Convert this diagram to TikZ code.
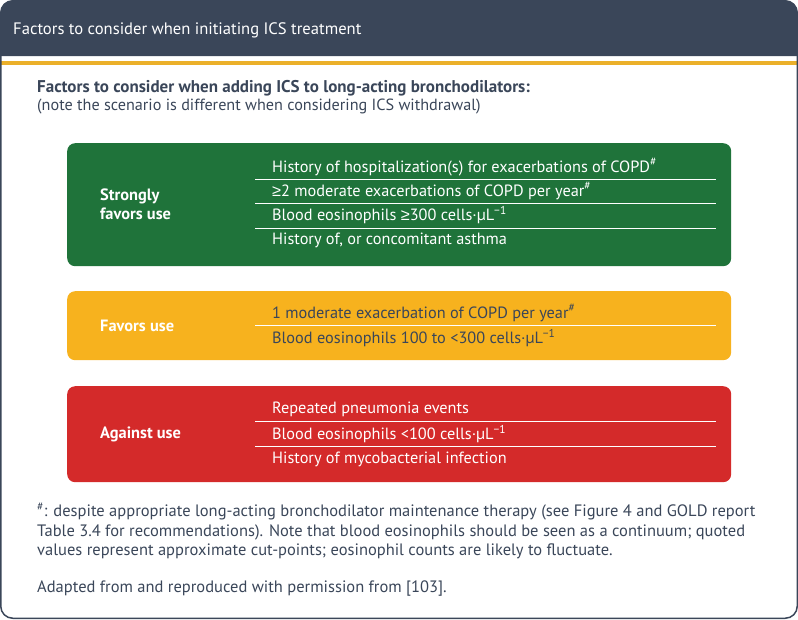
\documentclass[tikz,border=0pt]{standalone}
\usepackage{fontspec}
\setmainfont{PT Sans}
\newfontfamily\symfont{Liberation Sans}
\usepackage{xcolor}
\usepackage{tikz}
\usetikzlibrary{positioning,calc}
\definecolor{gdSlate}{HTML}{3A4659}
\definecolor{gdGold}{HTML}{EBB02A}
\definecolor{gdGreen}{HTML}{1F733A}
\definecolor{gdAmber}{HTML}{F7B21E}
\definecolor{gdRed}{HTML}{D42A2A}
\tikzset{
  factor band/.style={rounded corners=8pt,draw=none,minimum width=664pt,anchor=north west,inner sep=0pt},
  band label/.style={anchor=west,text=white,font=\bfseries\fontsize{16.4}{19}\selectfont,align=left,inner sep=0pt},
  row text/.style={anchor=west,font=\fontsize{16.3}{18}\selectfont,inner sep=0pt},
  row rule/.style={draw=white,line width=1pt},
  body text/.style={anchor=north west,text=gdSlate,font=\fontsize{16.5}{19.3}\selectfont,align=left,inner sep=0pt}
}
\newcommand{\perul}{cells·µL\textsuperscript{−1}}
\newcommand{\gesym}{{\symfont ≥}}

\begin{document}
\begin{tikzpicture}[x=1pt,y=-1pt]
\useasboundingbox (0,0) rectangle (798,619);
% frame and header
\fill[gdSlate] (0.75,56) [rounded corners=12pt] -- (0.75,0.75) -- (797.25,0.75) [sharp corners] -- (797.25,56) -- cycle;
\fill[gdGold] (0.75,60.5) rectangle (797.25,64.5);
\draw[gdSlate,line width=1.5pt,rounded corners=12pt] (0.75,0.75) rectangle (797.25,618.25);
\node[anchor=west,text=white,font=\fontsize{16.6}{19}\selectfont,inner sep=0pt] (title) at (13,30) {Factors to consider when initiating ICS treatment};
\node[body text,font=\fontsize{16.2}{18.5}\selectfont] (lead) at (37,80) {\textbf{\fontsize{17}{18.5}\selectfont Factors to consider when adding ICS to long-acting bronchodilators:}\\
(note the scenario is different when considering ICS withdrawal)};

% strongly favors use
\node[factor band,fill=gdGreen,minimum height=123pt] (strong) at (67,143) {};
\node[band label] (strongLbl) at ($(strong.west)+(33,0)$) {Strongly\\favors use};
\node[row text,text=white] (s1) at (272,167) {History of hospitalization(s) for exacerbations of COPD\textsuperscript{\#}};
\node[row text,text=white] (s2) at (272,191) {\gesym2 moderate exacerbations of COPD per year\textsuperscript{\#}};
\node[row text,text=white] (s3) at (272,215) {Blood eosinophils \gesym300 \perul};
\node[row text,text=white] (s4) at (272,240) {History of, or concomitant asthma};
\foreach \y in {179,203,228} \draw[row rule] (255,\y) -- (716,\y);

% favors use
\node[factor band,fill=gdAmber,minimum height=69pt] (favor) at (67,291) {};
\node[band label] (favorLbl) at ($(favor.west)+(33,0)$) {Favors use};
\node[row text,text=gdSlate] (f1) at (272,313) {1 moderate exacerbation of COPD per year\textsuperscript{\#}};
\node[row text,text=gdSlate] (f2) at (272,338) {Blood eosinophils 100 to <300 \perul};
\draw[row rule] (255,325) -- (716,325);

% against use
\node[factor band,fill=gdRed,minimum height=96pt] (against) at (67,386) {};
\node[band label] (againstLbl) at ($(against.west)+(33,0)$) {Against use};
\node[row text,text=white] (a1) at (272,409) {Repeated pneumonia events};
\node[row text,text=white] (a2) at (272,434) {Blood eosinophils <100 \perul};
\node[row text,text=white] (a3) at (272,459) {History of mycobacterial infection};
\foreach \y in {421,446} \draw[row rule] (255,\y) -- (716,\y);

% notes
\node[body text] (note) at (37,503) {\textsuperscript{\#}: despite appropriate long-acting bronchodilator maintenance therapy (see Figure 4 and GOLD report\\
Table 3.4 for recommendations). Note that blood eosinophils should be seen as a continuum; quoted\\
values represent approximate cut-points; eosinophil counts are likely to fluctuate.};
\node[body text] (source) at (37,581) {Adapted from and reproduced with permission from [103].};
\end{tikzpicture}
\end{document}
